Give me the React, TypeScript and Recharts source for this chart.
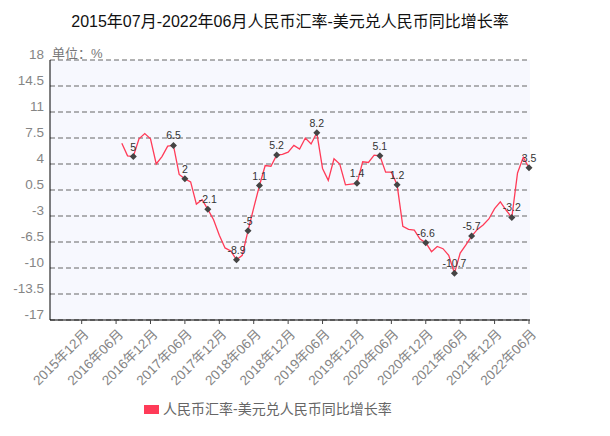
import { CartesianGrid, Line, LineChart, XAxis, YAxis } from "recharts";

const TITLE = "2015年07月-2022年06月人民币汇率-美元兑人民币同比增长率";
const SERIES_NAME = "人民币汇率-美元兑人民币同比增长率";
const UNIT = "单位：%";

// monthly categories 2015-07 .. 2022-06
const MONTHS: string[] = [];
for (let y = 2015; y <= 2022; y++) {
  for (let m = 1; m <= 12; m++) {
    if ((y === 2015 && m < 7) || (y === 2022 && m > 6)) continue;
    MONTHS.push(`${y}年${String(m).padStart(2, "0")}月`);
  }
}

const X_TICKS = [
  "2015年12月", "2016年06月", "2016年12月", "2017年06月", "2017年12月",
  "2018年06月", "2018年12月", "2019年06月", "2019年12月", "2020年06月",
  "2020年12月", "2021年06月", "2021年12月", "2022年06月",
];

const Y_TICKS = [-17, -13.5, -10, -6.5, -3, 0.5, 4, 7.5, 11, 14.5, 18];

// year-on-year growth, %, one per month (first year has no value)
const RATES: (number | null)[] = [
  null, null, null, null, null, null, null, null, null, null, null, null,
  6.8, 5.1, 5.0, 7.4, 8.1, 7.4, 4.0, 5.0, 6.4, 6.5, 2.6, 2.0,
  1.6, -1.4, -0.8, -2.1, -3.5, -5.6, -7.3, -7.7, -8.9, -8.3, -5.0, -1.9,
  1.1, 3.8, 3.7, 5.2, 5.3, 5.6, 6.5, 6.0, 7.5, 6.7, 8.2, 3.4,
  1.8, 4.7, 4.0, 1.2, 1.3, 1.4, 4.3, 4.2, 5.2, 5.1, 2.9, 2.9,
  1.2, -4.4, -4.8, -4.9, -6.1, -6.6, -7.8, -7.1, -7.4, -8.3, -10.7, -8.0,
  -6.9, -5.7, -4.8, -4.2, -3.4, -2.0, -1.1, -2.2, -3.2, 2.8, 4.9, 3.5,
];

// months that get a marker + value label
const MARKED = [14, 21, 23, 27, 32, 34, 36, 39, 46, 53, 57, 60, 65, 70, 73, 80, 83];

const data = MONTHS.map((month, i) => ({ month, rate: RATES[i] }));

const FONT = '"Liberation Sans", "Noto Sans CJK SC", sans-serif';
const LINE_COLOR = "#ff3b58";

const renderDot = (props: any) => {
  const { cx, cy, index, payload } = props;
  if (!MARKED.includes(index) || cx == null || cy == null) return <g key={`d${index}`} />;
  const r = 3.5;
  return (
    <g key={`d${index}`}>
      <path
        d={`M${cx},${cy - r}L${cx + r},${cy}L${cx},${cy + r}L${cx - r},${cy}Z`}
        fill="#444"
      />
      <text x={cx} y={cy - 6} textAnchor="middle" fontSize={10.5} fill="#333" fontFamily={FONT}>
        {payload.rate}
      </text>
    </g>
  );
};

const XTick = ({ x, y, payload }: any) => (
  <text
    x={x + 8}
    y={y + 9}
    transform={`rotate(-45 ${x + 8} ${y + 9})`}
    textAnchor="end"
    fontSize={13.5}
    fill="#858585"
    fontFamily={FONT}
  >
    {payload.value}
  </text>
);

const YTick = ({ x, y, payload }: any) => (
  <text x={x} y={y - 1} textAnchor="end" fontSize={13.5} fill="#858585" fontFamily={FONT}>
    {payload.value}
  </text>
);

export default function App() {
  return (
    <div
      style={{
        position: "absolute",
        left: 0,
        top: 0,
        width: 610,
        height: 436,
        background: "#fff",
        fontFamily: FONT,
      }}
    >
      <div
        style={{
          position: "absolute",
          left: 50,
          top: 12,
          width: 480,
          textAlign: "center",
          fontSize: 16,
          lineHeight: "20px",
          color: "#111",
        }}
      >
        {TITLE}
      </div>
      <LineChart
        width={610}
        height={436}
        data={data}
        margin={{ top: 60, right: 80, bottom: 36, left: 0 }}
      >
        <CartesianGrid
          vertical={false}
          stroke="#666"
          strokeDasharray="5 3"
          fill="#f7f8fe"
        />
        <XAxis
          dataKey="month"
          ticks={X_TICKS}
          interval={0}
          padding={{ left: 3, right: 1 }}
          axisLine={{ stroke: "#000" }}
          tickLine={{ stroke: "#444" }}
          tickSize={4}
          tickMargin={2}
          height={80}
          tick={<XTick />}
        />
        <YAxis
          type="number"
          domain={[-17, 18]}
          ticks={Y_TICKS}
          interval={0}
          width={50}
          axisLine={{ stroke: "#000" }}
          tickLine={false}
          tickMargin={0}
          tick={<YTick />}
          allowDataOverflow
        />
        <Line
          type="linear"
          dataKey="rate"
          stroke={LINE_COLOR}
          strokeWidth={1.3}
          dot={renderDot}
          activeDot={false}
          isAnimationActive={false}
        />
      </LineChart>
      <div
        style={{
          position: "absolute",
          left: 52,
          top: 46,
          fontSize: 13,
          lineHeight: "16px",
          color: "#777",
        }}
      >
        {UNIT}
      </div>
      <div
        style={{
          position: "absolute",
          left: 144,
          top: 400,
          display: "flex",
          alignItems: "center",
          fontSize: 14,
          lineHeight: "18px",
          color: "#666",
        }}
      >
        <span
          style={{
            display: "inline-block",
            width: 15,
            height: 9,
            background: LINE_COLOR,
            marginRight: 4,
          }}
        />
        {SERIES_NAME}
      </div>
    </div>
  );
}
